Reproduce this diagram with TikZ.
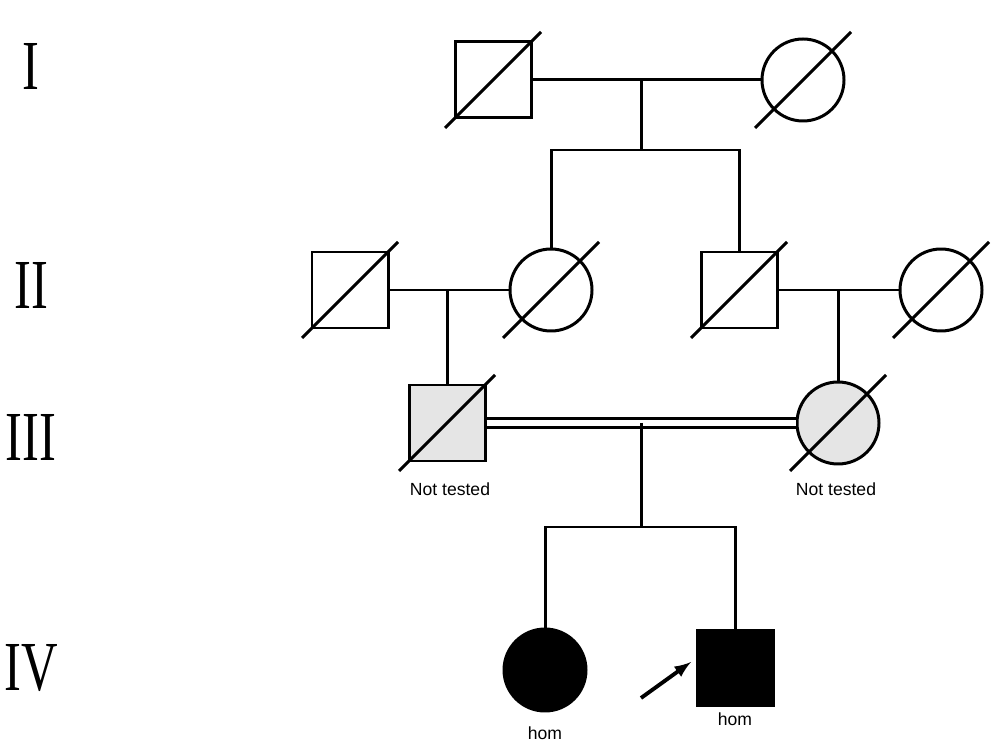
\documentclass[tikz,border=0pt]{standalone}
\usetikzlibrary{calc}
\usepackage{fontspec}
\setmainfont{Liberation Serif}
\setsansfont{Liberation Sans}
\begin{document}
\begin{tikzpicture}[x=0.02cm,y=-0.02cm,line width=1.7pt,
  male/.style={draw,rectangle,minimum size=76*0.02cm,inner sep=0pt},
  female/.style={draw,circle,minimum size=82*0.02cm,inner sep=0pt},
  carrier/.style={fill=gray!20},
  affected/.style={fill=black},
  gen/.style={font=\fontsize{40}{40}\selectfont,xscale=0.72,inner sep=0pt},
  lab/.style={font=\sffamily\fontsize{10}{12}\selectfont}]
\useasboundingbox (0,0) rectangle (993,742);
% Generation labels
\node[gen] (gI) at (31,66) {I};
\node[gen] (gII) at (31,285) {II};
\node[gen] (gIII) at (31,437) {III};
\node[gen] (gIV) at (31,668) {IV};
% Gen I
\node[male] (a1) at (493,80) {};
\node[female] (a2) at (803,80) {};
% Gen II
\node[male] (b1) at (350,290) {};
\node[female] (b2) at (551,290) {};
\node[male] (b3) at (739,290) {};
\node[female] (b4) at (941,290) {};
% Gen III
\node[male,carrier] (c1) at (447,423) {};
\node[female,carrier] (c2) at (838,423) {};
% Gen IV
\node[female,affected] (d1) at (545,670) {};
\node[male,affected] (d2) at (735,668) {};
% deceased slashes
\foreach \n in {a1,a2,b1,b2,b3,b4,c1,c2}
  \draw ($(\n.center)+(-48,48)$) -- ($(\n.center)+(48,-48)$);
% connectors
\coordinate (m1) at (641,80);
\coordinate (s1) at (641,150);
\draw (a1.east) -- (a2.west);
\draw (m1) -- (s1);
\draw (b2.north) |- (s1) -| (b3.north);
\coordinate (m2) at (447,290);
\draw (b1.east) -- (b2.west);
\draw (m2) -- (c1.north);
\coordinate (m3) at (838,290);
\draw (b3.east) -- (b4.west);
\draw (m3) -- (c2.north);
\draw[double,double distance=3.5pt,line width=1.4pt] (c1.east) -- (c2.west);
\coordinate (m4) at (641,423);
\coordinate (s4) at (641,527);
\draw (m4) -- (s4);
\draw (d1.north) |- (s4) -| (d2.north);
% labels
\node[lab] (t1) at (450,489) {Not tested};
\node[lab] (t2) at (836,489) {Not tested};
\node[lab] (h1) at (545,733) {hom};
\node[lab] (h2) at (735,719) {hom};
% proband arrow
\coordinate (pa) at (641,698);
\draw[-latex,line width=2.2pt] (pa) -- (691,662);
\end{tikzpicture}
\end{document}
